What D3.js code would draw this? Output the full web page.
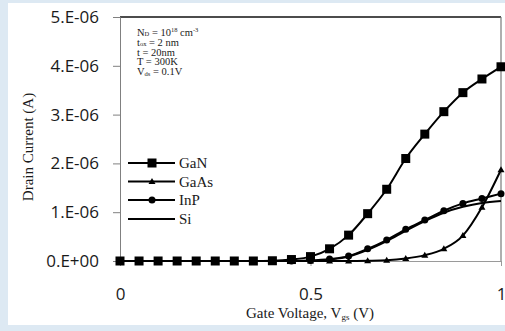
<!DOCTYPE html>
<html>
<head>
<meta charset="utf-8">
<script src="https://cdn.jsdelivr.net/npm/d3@7"></script>
<style>
  html, body { margin: 0; padding: 0; background: #dde9f3; }
  svg { display: block; }
</style>
</head>
<body>
<svg id="chart" width="505" height="331"></svg>
<script>
// Gate voltage sweep (V)
const vgs = [0, 0.05, 0.1, 0.15, 0.2, 0.25, 0.3, 0.35, 0.4, 0.45, 0.5,
             0.55, 0.6, 0.65, 0.7, 0.75, 0.8, 0.85, 0.9, 0.95, 1.0];

// Drain current per material, in units of 1e-6 A
const idGaN  = [0, 0, 0, 0, 0, 0, 0, 0, 0.005, 0.03, 0.09,
                0.25, 0.53, 0.97, 1.47, 2.1, 2.6, 3.06, 3.45, 3.73, 3.98];
const idGaAs = [0, 0, 0, 0, 0, 0, 0, 0, 0, 0, 0,
                0, 0, 0.005, 0.015, 0.05, 0.12, 0.25, 0.52, 1.1, 1.87];
const idInP  = [0, 0, 0, 0, 0, 0, 0, 0, 0, 0, 0.01,
                0.04, 0.1, 0.25, 0.43, 0.65, 0.84, 1.03, 1.18, 1.28, 1.38];
const idSi   = [0, 0, 0, 0, 0, 0, 0, 0, 0, 0, 0,
                0.03, 0.09, 0.23, 0.41, 0.62, 0.82, 0.99, 1.11, 1.19, 1.23];

const seriesNames = ["GaN", "GaAs", "InP", "Si"];
const seriesValues = [idGaN, idGaAs, idInP, idSi];
const seriesMarkers = ["square", "triangle", "circle", "none"];

const yTicks = [0, 1e-6, 2e-6, 3e-6, 4e-6, 5e-6];
const yTickLabels = ["0.E+00", "1.E-06", "2.E-06", "3.E-06", "4.E-06", "5.E-06"];
const xTicks = [0, 0.5, 1];
const xTickLabels = ["0", "0.5", "1"];

const svg = d3.select("#chart");

// White panel behind the figure
svg.append("rect").attr("x", 8).attr("y", 3).attr("width", 497).attr("height", 322)
  .attr("fill", "#ffffff");

const plot = { left: 120, top: 17, right: 501, bottom: 261 };
const x = d3.scaleLinear().domain([0, 1]).range([plot.left, plot.right]);
const y = d3.scaleLinear().domain([0, 5e-6]).range([plot.bottom, plot.top]);

const sansFont = "'Open Sans', 'Noto Sans', sans-serif";
const serifFont = "'Liberation Serif', 'DejaVu Serif', serif";

// Plot frame: top black, right gray
svg.append("line").attr("x1", plot.left).attr("x2", plot.right)
  .attr("y1", plot.top).attr("y2", plot.top)
  .attr("stroke", "#111").attr("stroke-width", 1.5);
svg.append("line").attr("x1", plot.right).attr("x2", plot.right)
  .attr("y1", plot.top).attr("y2", plot.bottom)
  .attr("stroke", "#7a7a7a").attr("stroke-width", 1.2);

// Y axis
const yAxis = d3.axisLeft(y).tickValues(yTicks)
  .tickFormat((d, i) => yTickLabels[i]).tickSize(7).tickPadding(14);
const gy = svg.append("g").attr("transform", `translate(${plot.left},0)`).call(yAxis);
gy.select(".domain").attr("stroke", "#808080");
gy.selectAll(".tick line").attr("stroke", "#808080");
gy.selectAll(".tick text").attr("fill", "#1a1a1a")
  .style("font-family", sansFont).style("font-size", "17px");

// X axis
const xAxis = d3.axisBottom(x).tickValues(xTicks)
  .tickFormat((d, i) => xTickLabels[i]).tickSize(5).tickPadding(22);
const gx = svg.append("g").attr("transform", `translate(0,${plot.bottom})`).call(xAxis);
gx.select(".domain").attr("stroke", "#9a9a9a");
gx.selectAll(".tick line").attr("stroke", "#9a9a9a");
gx.selectAll(".tick text").attr("fill", "#1a1a1a")
  .style("font-family", sansFont).style("font-size", "17px");

// Axis titles
const xTitle = svg.append("text").attr("x", 310).attr("y", 318)
  .attr("text-anchor", "middle").style("font-family", serifFont).style("font-size", "15px")
  .attr("fill", "#1a1a1a");
xTitle.append("tspan").text("Gate Voltage, V");
xTitle.append("tspan").attr("baseline-shift", "-25%").style("font-size", "9px").text("gs");
xTitle.append("tspan").text(" (V)");

svg.append("text").attr("transform", "translate(33,147) rotate(-90)")
  .attr("text-anchor", "middle").style("font-family", serifFont).style("font-size", "15px")
  .attr("fill", "#1a1a1a").text("Drain Current (A)");

// Curves
const line = d3.line()
  .x((d) => x(d[0]))
  .y((d) => y(d[1] * 1e-6))
  .curve(d3.curveMonotoneX);

function drawMarker(g, kind, cx, cy) {
  if (kind === "square") {
    g.append("rect").attr("x", cx - 4.5).attr("y", cy - 4.5)
      .attr("width", 9).attr("height", 9).attr("fill", "#000");
  } else if (kind === "circle") {
    g.append("circle").attr("cx", cx).attr("cy", cy).attr("r", 3.5).attr("fill", "#000");
  } else if (kind === "triangle") {
    g.append("path").attr("d", `M${cx},${cy - 3.5}L${cx + 3.5},${cy + 2.5}L${cx - 3.5},${cy + 2.5}Z`)
      .attr("fill", "#000");
  }
}

const drawOrder = [3, 1, 2, 0];
drawOrder.forEach((si) => {
  const pts = vgs.map((v, i) => [v, seriesValues[si][i]]);
  const g = svg.append("g");
  g.append("path").attr("d", line(pts)).attr("fill", "none")
    .attr("stroke", "#000").attr("stroke-width", 2);
  pts.forEach((p) => drawMarker(g, seriesMarkers[si], x(p[0]), y(p[1] * 1e-6)));
});

// Legend
const legendY = [163, 181.5, 200, 219];
seriesNames.forEach((name, i) => {
  const g = svg.append("g");
  g.append("line").attr("x1", 128).attr("x2", 175)
    .attr("y1", legendY[i]).attr("y2", legendY[i])
    .attr("stroke", "#000").attr("stroke-width", 2);
  drawMarker(g, seriesMarkers[i], 152, legendY[i]);
  g.append("text").attr("x", 179).attr("y", legendY[i] + 5)
    .style("font-family", serifFont).style("font-size", "15px").attr("fill", "#1a1a1a")
    .text(name);
});

// Device parameters: each line as a run of glyph pieces, sub/superscripts placed by dy
const notes = svg.append("g").style("font-family", serifFont).style("font-size", "10.5px")
  .attr("fill", "#1a1a1a");
function noteLine(yy, parts) {
  const t = notes.append("text").attr("x", 137).attr("y", yy);
  let offset = 0;
  parts.forEach(([s, shift]) => {
    const ts = t.append("tspan").text(s);
    const target = shift || 0;
    ts.attr("dy", target - offset);
    offset = target;
    if (shift) ts.style("font-size", "6.5px");
  });
}
noteLine(35.5, [["N", 0], ["D", 0.8], [" = 10", 0], ["18", -3.5], [" cm", 0], ["-3", -3.5]]);
noteLine(45.5, [["t", 0], ["ox", 0.8], [" = 2 nm", 0]]);
noteLine(55.5, [["t = 20nm", 0]]);
noteLine(65, [["T = 300K", 0]]);
noteLine(74.5, [["V", 0], ["ds", 1.2], [" = 0.1V", 0]]);
</script>
</body>
</html>
